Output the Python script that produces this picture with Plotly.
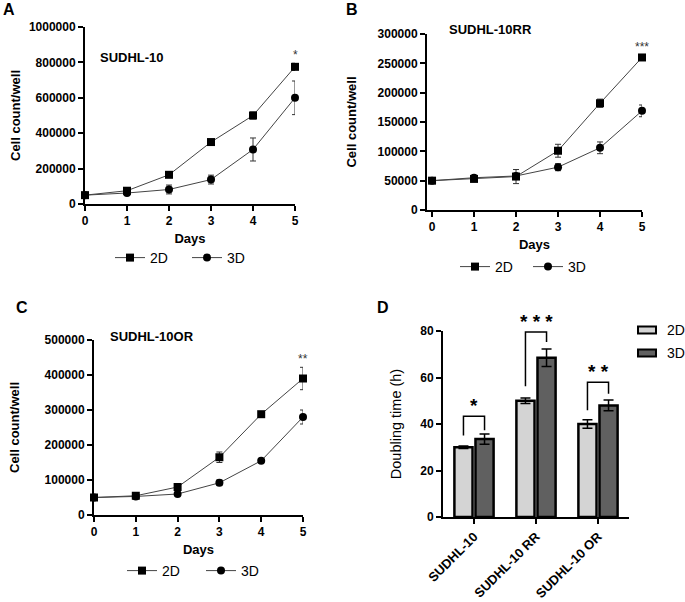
import plotly.graph_objects as go

# growth curves, cells/well
days = [0, 1, 2, 3, 4, 5]

a_2d = [50000, 75000, 165000, 350000, 500000, 775000]
a_2d_err = [5000, 8000, 8000, 12000, 20000, 20000]
a_3d = [50000, 62000, 82000, 138000, 308000, 600000]
a_3d_err = [5000, 5000, 25000, 25000, 65000, 95000]

b_2d = [50000, 53000, 57000, 101000, 182000, 260000]
b_2d_err = [2000, 2000, 12000, 11000, 7000, 5000]
b_3d = [50000, 55000, 58000, 73000, 106000, 169000]
b_3d_err = [2000, 2000, 3000, 6000, 10000, 10000]

c_2d = [50000, 55000, 80000, 165000, 288000, 390000]
c_2d_err = [3000, 3000, 10000, 15000, 5000, 32000]
c_3d = [50000, 53000, 60000, 92000, 155000, 280000]
c_3d_err = [3000, 3000, 4000, 8000, 4000, 20000]

# doubling time (h)
lines = ["SUDHL-10", "SUDHL-10 RR", "SUDHL-10 OR"]
dt_2d = [30.0, 50.0, 40.0]
dt_2d_err = [0.5, 1.2, 1.8]
dt_3d = [33.5, 68.5, 48.0]
dt_3d_err = [2.2, 3.8, 2.3]
sig = ["*", "* * *", "* *"]
bracket_top = [43.3, 79.6, 58.0]
bracket_left = [35.1, 56.2, 45.9]
bracket_right = [37.3, 75.3, 53.0]

FONT = "Liberation Sans, Arial, sans-serif"
W, H = 685, 602
C2D, C3D = "#d4d4d4", "#606060"


def px(x0, x1):
    return [x0 / W, x1 / W]


def py(top, bottom):
    return [1 - bottom / H, 1 - top / H]


fig = go.Figure()

panels = [
    ("x", "y", "legend", a_2d, a_2d_err, a_3d, a_3d_err),
    ("x2", "y2", "legend2", b_2d, b_2d_err, b_3d, b_3d_err),
    ("x3", "y3", "legend3", c_2d, c_2d_err, c_3d, c_3d_err),
]
for xa, ya, lg, v2, e2, v3, e3 in panels:
    fig.add_trace(go.Scatter(
        x=days, y=v2, name="2D", xaxis=xa, yaxis=ya, legend=lg,
        mode="lines+markers", cliponaxis=False,
        line=dict(color="#444444", width=1),
        marker=dict(symbol="square", size=8, color="black"),
        error_y=dict(type="data", array=e2, color="#333333", thickness=1, width=3)
    ))
    fig.add_trace(go.Scatter(
        x=days, y=v3, name="3D", xaxis=xa, yaxis=ya, legend=lg,
        mode="lines+markers", cliponaxis=False,
        line=dict(color="#444444", width=1),
        marker=dict(symbol="circle", size=8, color="black"),
        error_y=dict(type="data", array=e3, color="#333333", thickness=1, width=3)
    ))

# bar panel
fig.add_trace(go.Bar(
    x=[0, 1, 2], y=dt_2d, name="2D", xaxis="x4", yaxis="y4", showlegend=False,
    marker=dict(color=C2D, line=dict(color="black", width=2.5)),
    error_y=dict(type="data", array=dt_2d_err, color="black", thickness=1.5, width=5)
))
fig.add_trace(go.Bar(
    x=[0, 1, 2], y=dt_3d, name="3D", xaxis="x4", yaxis="y4", showlegend=False,
    marker=dict(color=C3D, line=dict(color="black", width=2.5)),
    error_y=dict(type="data", array=dt_3d_err, color="black", thickness=1.5, width=5)
))

off = 0.17
for i in range(len(lines)):
    fig.add_trace(go.Scatter(
        x=[i - off, i - off, i + off, i + off],
        y=[bracket_left[i], bracket_top[i], bracket_top[i], bracket_right[i]],
        mode="lines", line=dict(color="black", width=1.5),
        xaxis="x4", yaxis="y4", showlegend=False, hoverinfo="skip"
    ))
    fig.add_annotation(
        x=i, y=bracket_top[i], xref="x4", yref="y4", text=sig[i],
        showarrow=False, yanchor="bottom", yshift=-2,
        font=dict(size=19, color="black", family=FONT, weight="bold")
    )

# legend for bar panel (boxes drawn by hand, the reference legend is clipped at the edge)
for lbl, col, ly in [("2D", C2D, 330), ("3D", C3D, 353)]:
    fig.add_shape(type="rect", xref="paper", yref="paper",
                  x0=638 / W, x1=656 / W, y0=1 - (ly + 3.5) / H, y1=1 - (ly - 3.5) / H,
                  fillcolor=col, line=dict(color="black", width=2))
    fig.add_annotation(x=665 / W, y=1 - ly / H, xref="paper", yref="paper", text=lbl,
                       xanchor="left", yanchor="middle", showarrow=False, font=dict(size=14))

axis_common = dict(
    showline=True, linecolor="black", linewidth=2, ticks="outside",
    ticklen=5, tickwidth=2, tickcolor="black", showgrid=False, zeroline=False,
    automargin=False,
    tickfont=dict(size=12, family=FONT, color="black", weight="bold"),
)
xline = dict(axis_common, range=[0, 5], dtick=1,
             title=dict(text="Days", font=dict(size=13, family=FONT, weight="bold"), standoff=6))


def ytitle(standoff):
    return dict(text="Cell count/well", font=dict(size=13, family=FONT, weight="bold"),
                standoff=standoff)


fig.update_layout(
    width=W, height=H, margin=dict(l=0, r=0, t=0, b=0),
    plot_bgcolor="white", paper_bgcolor="white",
    font=dict(family=FONT, color="black"),
    barmode="group", bargap=0.32, bargroupgap=0.14,
    xaxis=dict(xline, domain=px(85, 295), anchor="y"),
    yaxis=dict(axis_common, domain=py(27, 204), range=[0, 1000000], dtick=200000,
               tickformat="d", title=ytitle(5), anchor="x"),
    xaxis2=dict(xline, domain=px(427, 642), range=[-0.12, 5], anchor="y2"),
    yaxis2=dict(axis_common, domain=py(34, 210), range=[0, 300000], dtick=50000,
                tickformat="d", title=ytitle(18), anchor="x2"),
    xaxis3=dict(xline, domain=px(94, 303), anchor="y3"),
    yaxis3=dict(axis_common, domain=py(340, 515), range=[0, 500000], dtick=100000,
                tickformat="d", title=ytitle(22), anchor="x3"),
    xaxis4=dict(axis_common, domain=px(443, 629), range=[-0.5, 2.5],
                tickvals=[0, 1, 2], ticktext=lines, tickangle=-45, anchor="y4",
                tickfont=dict(size=13, family=FONT, color="black", weight="bold")),
    yaxis4=dict(axis_common, domain=py(331, 517), range=[0, 80], dtick=20,
                title=dict(text="Doubling time (h)", font=dict(size=14.5, family=FONT), standoff=15),
                anchor="x4"),
    legend=dict(orientation="h", x=110 / W, y=1 - 258 / H, xanchor="left", yanchor="middle",
                entrywidth=32, font=dict(size=14)),
    legend2=dict(orientation="h", x=455 / W, y=1 - 267 / H, xanchor="left", yanchor="middle",
                 entrywidth=28, font=dict(size=14)),
    legend3=dict(orientation="h", x=122 / W, y=1 - 571 / H, xanchor="left", yanchor="middle",
                 entrywidth=34, font=dict(size=14)),
)

# panel letters
for letter, lx, ly in [("A", 9, 10), ("B", 352, 10), ("C", 22, 307), ("D", 383, 307)]:
    fig.add_annotation(x=lx / W, y=1 - ly / H, xref="paper", yref="paper", text=letter,
                       xanchor="center", yanchor="middle",
                       showarrow=False, font=dict(size=16, weight="bold"))

# cell line names
for name, lx, ly in [("SUDHL-10", 98, 58), ("SUDHL-10RR", 447, 30), ("SUDHL-10OR", 108, 336)]:
    fig.add_annotation(x=lx / W, y=1 - ly / H, xref="paper", yref="paper", text=name,
                       xanchor="left", yanchor="middle", showarrow=False,
                       font=dict(size=13, weight="bold"))

# day-5 significance
for xa, ya, v, e, s in [("x", "y", a_2d, a_2d_err, "*"), ("x2", "y2", b_2d, b_2d_err, "***"),
                        ("x3", "y3", c_2d, c_2d_err, "**")]:
    fig.add_annotation(x=5, y=v[-1] + e[-1], xref=xa, yref=ya, text=s, showarrow=False,
                       yanchor="bottom", yshift=-1, font=dict(size=12, color="#333333"))

# page body margin would shift the whole figure by 8px
fig.write_html("out.html", config={"displayModeBar": False},
               post_script="document.body.style.margin='0';")
